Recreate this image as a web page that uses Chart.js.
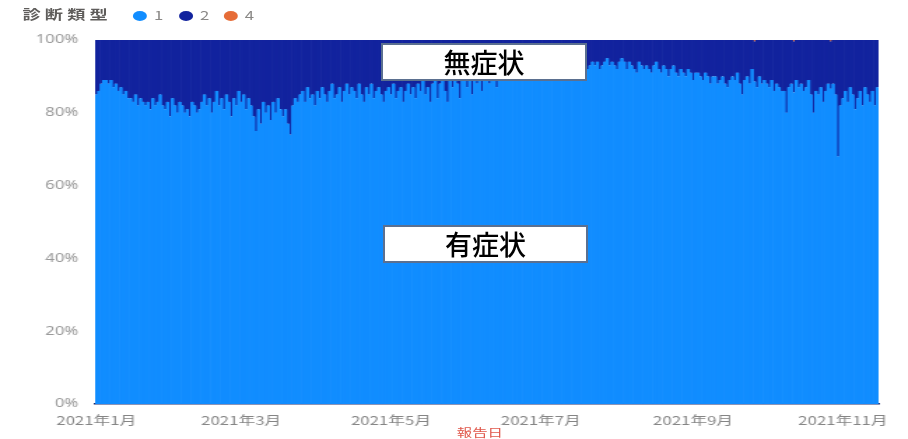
<!DOCTYPE html>
<html lang="ja">
<head>
<meta charset="utf-8">
<title>診断類型</title>
<script src="https://cdn.jsdelivr.net/npm/chart.js@4.4.1/dist/chart.umd.min.js"></script>
<style>
  html, body { margin: 0; padding: 0; background: #fff; }
  body { width: 908px; height: 439px; position: relative; overflow: hidden; font-family: "Noto Sans CJK JP", "Noto Sans", sans-serif; }
  /* the source screenshot is stretched sideways, so the chart is drawn narrow and scaled */
  #stretch { position: absolute; left: 0; top: 0; width: 649px; height: 439px; transform: scaleX(1.399); transform-origin: 0 0; }
  #chartBox { position: absolute; left: 0; top: 0; width: 649px; height: 439px; }
  .lg { position: absolute; top: 7px; font-size: 12px; line-height: 16px; color: #8a8886; white-space: nowrap; }
  .lg.title { left: 16px; top: 6px; font-size: 13px; color: #5f5d5b; font-weight: bold; letter-spacing: 3px; }
  .dot { position: absolute; top: 11px; width: 10px; height: 10px; border-radius: 50%; }
  #xTitle { position: absolute; left: 343px; top: 424px; transform: translateX(-50%); font-size: 11px; color: #e0564a; }
  .note { position: absolute; box-sizing: border-box; border: 2px solid #5b7090; background: #fff; color: #000;
          font-size: 27px; font-weight: 500; line-height: 34px; text-align: center; }
</style>
</head>
<body>
<div id="stretch">
  <div id="chartBox"><canvas id="chart"></canvas></div>
  <div class="lg title">診断類型</div>
  <div class="dot" style="left:95px;background:#118DFF"></div><div class="lg" style="left:110px">1</div>
  <div class="dot" style="left:128px;background:#12239E"></div><div class="lg" style="left:143px">2</div>
  <div class="dot" style="left:160px;background:#E66C37"></div><div class="lg" style="left:175px">4</div>
  <div id="xTitle">報告日</div>
</div>
<div class="note" style="left:381px;top:43px;width:206px;height:38px;">無症状</div>
<div class="note" style="left:383px;top:225px;width:205px;height:38px;">有症状</div>

<script>
// daily share (%) of 診断類型 2 (asymptomatic), 2021-01-01 .. 2021-11-15, one row per week
const asymptomatic = [
  15,14,12,11,11,12,11,  13,12,14,13,15,14,16,  16,17,15,18,16,17,18,  17,19,16,18,17,15,18,
  19,17,21,16,18,20,17,  18,20,19,21,17,18,20,  19,17,15,18,16,20,17,  14,18,16,19,15,17,21,
  16,18,14,17,15,19,16,  18,21,25,19,23,17,20,  18,22,17,20,16,19,21,  19,23,26,18,16,17,15,
  14,17,13,16,15,18,14,  16,13,15,17,14,12,16,  15,13,17,14,12,15,13,  14,16,12,15,17,13,15,
  12,16,14,13,15,17,14,  13,15,12,16,14,13,17,  14,12,15,13,16,12,14,  11,15,13,17,12,11,16,
  12,10,14,17,11,13,10,  12,16,11,10,13,11,15,  10,12,9,14,11,10,12,   10,9,13,10,9,11,9,
  10,9,8,10,9,8,9,       8,9,8,7,9,8,7,         8,7,9,7,8,6,7,         7,8,6,7,8,6,7,
  6,8,7,9,8,7,6,         7,6,8,7,6,5,7,         6,7,8,6,5,6,8,         6,7,8,9,6,7,8,
  7,8,9,7,6,8,9,         7,8,10,8,7,9,10,       8,9,10,8,9,11,9,       9,10,11,9,10,12,10,
  10,12,11,10,12,13,11,  10,11,9,12,15,11,10,   12,8,11,13,10,12,11,   12,13,11,14,12,13,14,
  14,20,13,12,14,11,13,  12,14,13,11,15,20,14,  15,13,17,14,12,13,12,  15,32,18,16,14,17,13,
  15,19,16,14,18,13,15,  17,14,18,13
];

// 診断類型 4 only shows as a sliver on a few days
const type4Days  = [268, 284, 299];
const type4Share = [0.4, 0.4, 0.4];

const tickDates  = ['2021-1-1', '2021-3-1', '2021-5-1', '2021-7-1', '2021-9-1', '2021-11-1'];
const tickLabels = ['2021年1月', '2021年3月', '2021年5月', '2021年7月', '2021年9月', '2021年11月'];

const yTicks = [0, 20, 40, 60, 80, 100];

const labels = [];
for (let i = 0; i < asymptomatic.length; i++) {
    const d = new Date(2021, 0, 1 + i);
    labels.push(`${d.getFullYear()}-${d.getMonth() + 1}-${d.getDate()}`);
}

const type4 = labels.map(() => 0);
type4Days.forEach((day, i) => { type4[day] = type4Share[i]; });
const symptomatic = asymptomatic.map((v, i) => 100 - v - type4[i]);

const ctx = document.getElementById('chart').getContext('2d');

new Chart(ctx, {
    type: 'bar',
    data: {
        labels: labels,
        datasets: [
            { label: '1', data: symptomatic, backgroundColor: '#118DFF' },
            { label: '2', data: asymptomatic, backgroundColor: '#12239E' },
            { label: '4', data: type4, backgroundColor: '#E66C37' }
        ]
    },
    options: {
        responsive: true,
        maintainAspectRatio: false,
        animation: false,
        datasets: {
            // a little overlap hides the hairline gaps between the thin bars
            bar: { barPercentage: 1.4, categoryPercentage: 1, borderWidth: 0 }
        },
        layout: { padding: { top: 40, right: 21, bottom: 0, left: 0 } },
        plugins: {
            legend: { display: false },
            tooltip: { enabled: false }
        },
        scales: {
            x: {
                stacked: true,
                grid: { display: false },
                border: { display: true, color: '#1b2a70', width: 1.5 },
                afterFit: (scale) => { scale.height = 35; },
                ticks: {
                    autoSkip: false,
                    maxRotation: 0,
                    padding: 1,
                    color: '#858585',
                    font: { family: '"Noto Sans CJK JP", sans-serif', size: 12 },
                    callback: (value, index) => {
                        const k = tickDates.indexOf(labels[index]);
                        return k >= 0 ? tickLabels[k] : '';
                    }
                }
            },
            y: {
                stacked: true,
                min: 0,
                max: 100,
                grid: { display: false, drawTicks: false },
                border: { display: false },
                afterFit: (scale) => { scale.width = 68; },
                afterBuildTicks: (scale) => { scale.ticks = yTicks.map(v => ({ value: v })); },
                ticks: {
                    padding: 12,
                    color: '#9a9a9a',
                    font: { family: '"Noto Sans", sans-serif', size: 12 },
                    callback: (value) => value + '%'
                }
            }
        }
    }
});
</script>
</body>
</html>
